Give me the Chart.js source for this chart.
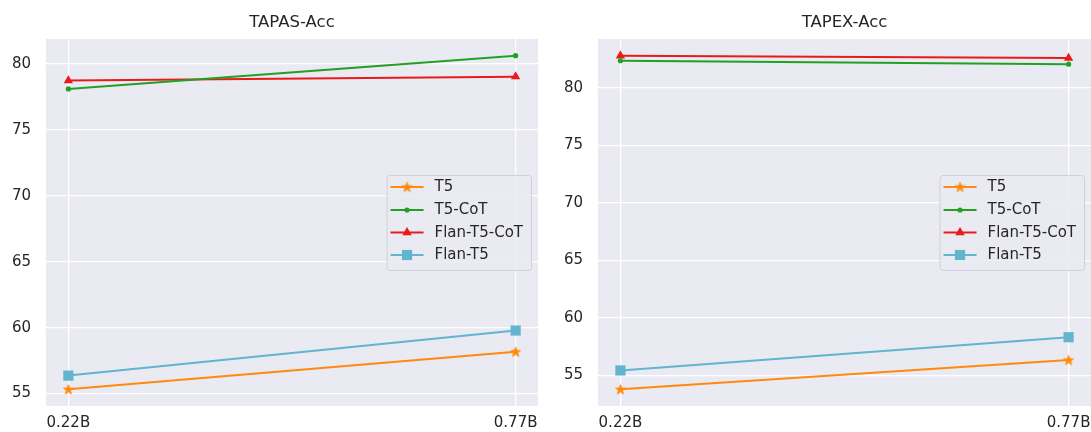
<!DOCTYPE html>
<html>
<head>
<meta charset="utf-8">
<script src="https://cdn.jsdelivr.net/npm/chart.js@4/dist/chart.umd.min.js"></script>
<style>
  html, body { margin: 0; padding: 0; background: #ffffff; }
  #wrap { position: relative; width: 1091px; height: 432px; }
  .cv { position: absolute; top: 0; }
</style>
</head>
<body>
<div id="wrap">
  <div class="cv" style="left:0;width:545px;height:432px;"><canvas id="c1"></canvas></div>
  <div class="cv" style="left:545px;width:546px;height:432px;"><canvas id="c2"></canvas></div>
</div>
<script>
// ---- data ----
const sizes = ['0.22B', '0.77B'];
const seriesNames = ['T5', 'T5-CoT', 'Flan-T5-CoT', 'Flan-T5'];
const titles = ['TAPAS-Acc', 'TAPEX-Acc'];
const yTicks = [55, 60, 65, 70, 75, 80];

const tapasT5 = [55.32, 58.17];
const tapasT5CoT = [78.11, 80.63];
const tapasFlanT5CoT = [78.74, 79.04];
const tapasFlanT5 = [56.36, 59.78];

const tapexT5 = [53.79, 56.33];
const tapexT5CoT = [82.36, 82.06];
const tapexFlanT5CoT = [82.80, 82.59];
const tapexFlanT5 = [55.43, 58.32];

// ---- styles ----
const colors = ['#ff8a0d', '#23a023', '#e81a1a', '#62b4cf'];
const FONT = "'DejaVu Sans', sans-serif";

function makeStar(color) {
  const s = 13, c = document.createElement('canvas');
  c.width = s; c.height = s;
  const g = c.getContext('2d');
  const R = 5.2, r = 2.2, cx = s / 2, cy = s / 2 + 0.4;
  g.beginPath();
  for (let i = 0; i < 10; i++) {
    const rad = (i % 2 === 0) ? R : r;
    const a = -Math.PI / 2 + i * Math.PI / 5;
    const x = cx + rad * Math.cos(a), y = cy + rad * Math.sin(a);
    if (i === 0) g.moveTo(x, y); else g.lineTo(x, y);
  }
  g.closePath();
  g.fillStyle = color; g.fill();
  g.lineWidth = 0.8; g.strokeStyle = color; g.stroke();
  return c;
}
const starImg = makeStar(colors[0]);

const pointStyles = [starImg, 'circle', 'triangle', 'rect'];
const pointRadii = [5, 2.6, 5.4, 7.2];

function drawMarker(ctx, i, x, y) {
  ctx.save();
  ctx.fillStyle = colors[i];
  ctx.strokeStyle = colors[i];
  if (i === 0) {
    ctx.drawImage(starImg, x - starImg.width / 2, y - starImg.height / 2);
  } else if (i === 1) {
    ctx.beginPath(); ctx.arc(x, y, pointRadii[1], 0, Math.PI * 2); ctx.fill();
  } else if (i === 2) {
    const R = pointRadii[2];
    ctx.beginPath();
    for (let k = 0; k < 3; k++) {
      const a = k * 2 * Math.PI / 3;
      const px = x + Math.sin(a) * R, py = y - Math.cos(a) * R;
      if (k === 0) ctx.moveTo(px, py); else ctx.lineTo(px, py);
    }
    ctx.closePath(); ctx.fill();
  } else {
    const h = Math.SQRT1_2 * pointRadii[3];
    ctx.fillRect(x - h, y - h, 2 * h, 2 * h);
  }
  ctx.restore();
}

const bgPlugin = {
  id: 'bg',
  beforeDraw(chart) {
    const a = chart.chartArea, ctx = chart.ctx;
    ctx.save();
    ctx.fillStyle = '#eaeaf2';
    ctx.fillRect(a.left, a.top, a.right - a.left, a.bottom - a.top);
    ctx.restore();
  }
};

const titlePlugin = {
  id: 'ttl',
  afterDraw(chart, args, opts) {
    const a = chart.chartArea, ctx = chart.ctx;
    ctx.save();
    ctx.fillStyle = '#262626';
    ctx.font = "16.5px " + FONT;
    ctx.textAlign = 'center';
    ctx.textBaseline = 'middle';
    ctx.fillText(opts.text, (a.left + a.right) / 2, 23);
    ctx.restore();
  }
};

const legendPlugin = {
  id: 'lgd',
  afterDatasetsDraw(chart) {
    const a = chart.chartArea, ctx = chart.ctx;
    ctx.save();
    ctx.font = "15px " + FONT;
    const labels = chart.data.datasets.map(d => d.label);
    const tw = Math.max(...labels.map(l => ctx.measureText(l).width));
    const w = 4 + 33 + 11 + tw + 8;
    const h = 95;
    const right = a.right - 7;
    const left = right - w;
    const top = (a.top + a.bottom) / 2 - h / 2;
    ctx.beginPath();
    if (ctx.roundRect) ctx.roundRect(left + 0.5, top + 0.5, w, h, 3);
    else ctx.rect(left + 0.5, top + 0.5, w, h);
    ctx.fillStyle = 'rgba(234,234,242,0.85)';
    ctx.fill();
    ctx.strokeStyle = '#d0d0d6';
    ctx.lineWidth = 1;
    ctx.stroke();
    const rows = [12, 35, 57.5, 80];
    labels.forEach((lab, i) => {
      const y = top + rows[i];
      ctx.beginPath();
      ctx.moveTo(left + 4, y); ctx.lineTo(left + 37, y);
      ctx.strokeStyle = colors[i]; ctx.lineWidth = 2; ctx.stroke();
      drawMarker(ctx, i, left + 20.5, y);
      ctx.fillStyle = '#262626';
      ctx.textAlign = 'left';
      ctx.textBaseline = 'middle';
      ctx.fillText(lab, left + 48, y + 0.5);
    });
    ctx.restore();
  }
};

function makeChart(id, title, series, yAxisWidth, padRight) {
  const vals = series.flat();
  const mn = Math.min(...vals), mx = Math.max(...vals);
  const m = (mx - mn) * 0.05;
  const datasets = series.map((s, i) => ({
    label: seriesNames[i],
    data: s.map((v, j) => ({ x: j, y: v })),
    borderColor: colors[i],
    backgroundColor: colors[i],
    borderWidth: 2,
    pointStyle: pointStyles[i],
    pointRadius: pointRadii[i],
    pointHoverRadius: pointRadii[i],
    pointBorderWidth: 0,
    order: i
  }));
  return new Chart(document.getElementById(id), {
    type: 'line',
    data: { datasets },
    plugins: [bgPlugin, titlePlugin, legendPlugin],
    options: {
      responsive: true,
      maintainAspectRatio: false,
      animation: false,
      events: [],
      layout: { autoPadding: false, padding: { top: 39, right: padRight, left: 0, bottom: 0 } },
      plugins: {
        legend: { display: false },
        tooltip: { enabled: false },
        ttl: { text: title }
      },
      scales: {
        x: {
          type: 'linear',
          min: -0.05, max: 1.05,
          afterBuildTicks(sc) { sc.ticks = sizes.map((_, j) => ({ value: j })); },
          afterFit(sc) { sc.height = 26; sc.paddingLeft = 0; sc.paddingRight = 0; },
          ticks: {
            callback: v => sizes[v],
            color: '#262626',
            font: { family: FONT, size: 15 },
            padding: 8,
            maxRotation: 0,
            autoSkip: false
          },
          grid: { color: '#ffffff', lineWidth: 1.3, drawTicks: false },
          border: { display: false }
        },
        y: {
          type: 'linear',
          min: mn - m, max: mx + m,
          afterBuildTicks(sc) { sc.ticks = yTicks.filter(t => t >= sc.min && t <= sc.max).map(t => ({ value: t })); },
          afterFit(sc) { sc.width = yAxisWidth; sc.paddingTop = 0; sc.paddingBottom = 0; },
          ticks: {
            color: '#262626',
            font: { family: FONT, size: 15 },
            padding: 15
          },
          grid: { color: '#ffffff', lineWidth: 1.3, drawTicks: false },
          border: { display: false }
        }
      }
    }
  });
}

makeChart('c1', titles[0], [tapasT5, tapasT5CoT, tapasFlanT5CoT, tapasFlanT5], 46, 7);
makeChart('c2', titles[1], [tapexT5, tapexT5CoT, tapexFlanT5CoT, tapexFlanT5], 53, 0);
</script>
</body>
</html>
